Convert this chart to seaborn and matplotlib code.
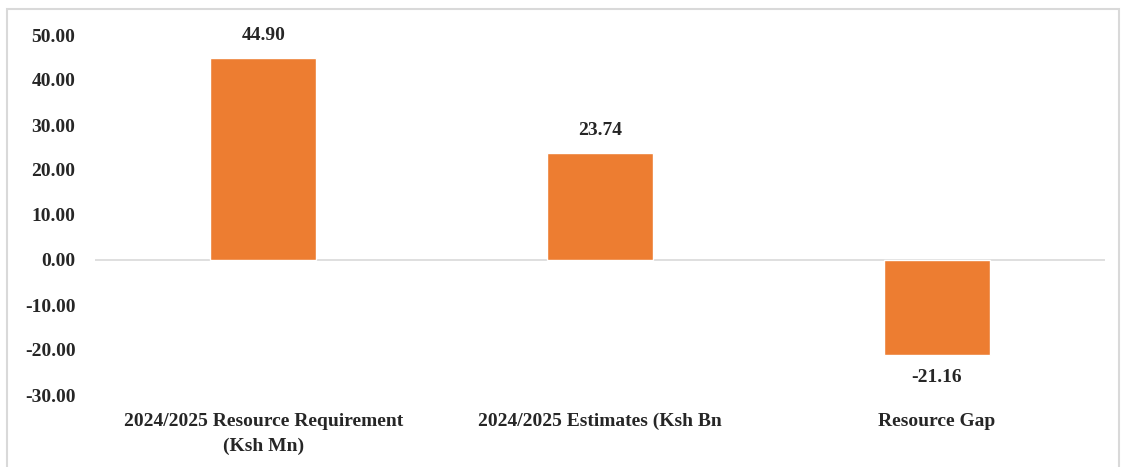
import matplotlib
matplotlib.use('Agg')
import matplotlib.pyplot as plt
import seaborn as sns
import pandas as pd
from matplotlib.patches import Rectangle

categories = ['2024/2025 Resource Requirement\n(Ksh Mn)', '2024/2025 Estimates (Ksh Bn', 'Resource Gap']
values = [44.90, 23.74, -21.16]
yticks = [-30, -20, -10, 0, 10, 20, 30, 40, 50]

sns.set_style('white')
plt.rcParams['font.family'] = ['Liberation Serif', 'DejaVu Serif']
plt.rcParams['font.weight'] = 'bold'

df = pd.DataFrame({'category': categories, 'value': values})

fig = plt.figure(figsize=(11.23, 4.67), dpi=100)
ax = fig.add_axes([95 / 1123, 1 - 395 / 467, 1010 / 1123, 360 / 467])
sns.barplot(data=df, x='category', y='value', color='#ED7D31', saturation=1, width=0.315, ax=ax)

ax.set_ylim(-30, 50)
ax.set_xlim(-0.5, 2.5)
ax.set_yticks(yticks)
ax.set_yticklabels(['{0:.2f}'.format(t) for t in yticks], fontsize=14, fontweight='bold')
ax.tick_params(axis='y', length=0, pad=14)
ax.tick_params(axis='x', length=0, pad=13, labelsize=14)
for lbl in ax.get_xticklabels():
    lbl.set_fontweight('bold')
    lbl.set_linespacing(1.55)
ax.set_xlabel('')
ax.set_ylabel('')
for s in ax.spines.values():
    s.set_visible(False)
ax.axhline(0, color='#D9D9D9', lw=1.2, zorder=0)

for i, v in enumerate(values):
    off = 10 if v >= 0 else -10
    ax.annotate('{0:.2f}'.format(v), (i, v), xytext=(0, off), textcoords='offset points',
                ha='center', va='bottom' if v >= 0 else 'top', fontsize=14, fontweight='bold')

fig.patches.append(Rectangle((7 / 1123, -0.01), 1112 / 1123, 1 - 9 / 467 + 0.01, transform=fig.transFigure,
                             fill=False, edgecolor='#D9D9D9', lw=1.5))

fig.savefig('out.png', dpi=100)
